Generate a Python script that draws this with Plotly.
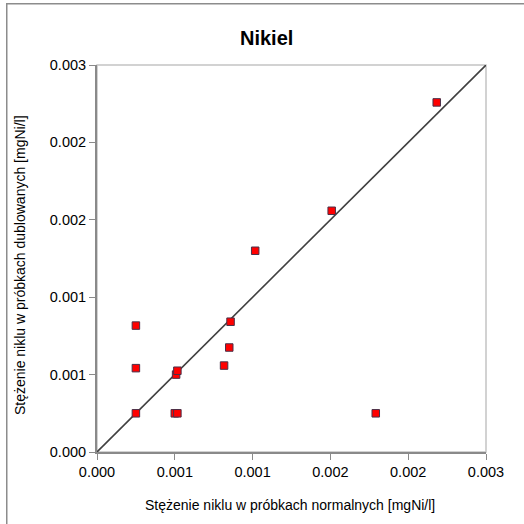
import plotly.graph_objects as go

# normal vs duplicate sample nickel concentrations [mgNi/l]
x_normal = [0.00030, 0.00030, 0.00030, 0.00061, 0.00062, 0.00060, 0.00062,
            0.00098, 0.00102, 0.00103, 0.00122, 0.00181, 0.00215, 0.00262]
y_duplicate = [0.00098, 0.00065, 0.00030, 0.00060, 0.00063, 0.00030, 0.00030,
               0.00067, 0.00081, 0.00101, 0.00156, 0.00187, 0.00030, 0.00271]
line_ends = [0.0, 0.003]
tick_vals = [0.0, 0.0006, 0.0012, 0.0018, 0.0024, 0.003]

title = "Nikiel"
x_title = "Stężenie niklu w próbkach normalnych [mgNi/l]"
y_title = "Stężenie niklu w próbkach dublowanych [mgNi/l]"

FONT = "Liberation Sans, Arial, sans-serif"

fig = go.Figure()

fig.add_trace(go.Scatter(
    x=line_ends, y=line_ends,
    mode="lines",
    line=dict(color="#404040", width=1.6),
    hoverinfo="skip",
    showlegend=False))

fig.add_trace(go.Scatter(
    x=x_normal, y=y_duplicate,
    mode="markers",
    marker=dict(symbol="square", size=7.5, color="#ff0000",
                line=dict(color="#4a3048", width=1)),
    showlegend=False))

axis_style = dict(
    range=[0, 0.003],
    tickvals=tick_vals,
    tickformat=".3f",
    ticks="outside",
    ticklen=6,
    tickcolor="#8a8a8a",
    showline=True,
    linecolor="#8a8a8a",
    linewidth=2,
    showgrid=False,
    zeroline=False,
    tickfont=dict(family=FONT, size=14.5, color="#000000"))

fig.update_xaxes(**axis_style)
fig.update_yaxes(**axis_style)

fig.update_layout(
    width=524, height=524,
    margin=dict(l=97, r=38, t=65, b=72),
    paper_bgcolor="white",
    plot_bgcolor="white",
    font=dict(family=FONT, color="#000000"),
    shapes=[
        # light plot area frame
        dict(type="rect", xref="paper", yref="paper", x0=0, y0=0, x1=1, y1=1,
             line=dict(color="#c4c4c4", width=1.5), layer="below"),
        # outer chart border
        dict(type="rect", xref="paper", yref="paper", x0=-0.232, y0=-2, x1=2, y1=1.158,
             line=dict(color="#8c8c8c", width=1.5)),
    ],
    annotations=[
        dict(text="<b>" + title + "</b>", x=0.437, y=1.07, xref="paper", yref="paper",
             showarrow=False, font=dict(family=FONT, size=20), xanchor="center", yanchor="middle"),
        dict(text=x_title, x=0.495, y=-0.137, xref="paper", yref="paper",
             showarrow=False, font=dict(family=FONT, size=14), xanchor="center", yanchor="middle"),
        dict(text=y_title, x=-0.198, y=0.483, xref="paper", yref="paper", textangle=-90,
             showarrow=False, font=dict(family=FONT, size=14), xanchor="center", yanchor="middle"),
    ])

fig.write_html("out.html", config={"displayModeBar": False},
               post_script="document.body.style.margin='0';")
